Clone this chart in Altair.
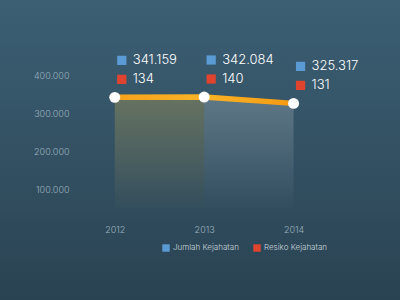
import altair as alt
import pandas as pd

years = [2012, 2013, 2014]
jumlah = [341159, 342084, 325317]
resiko = [134, 140, 131]
series_names = ["Jumlah Kejahatan", "Resiko Kejahatan"]
series_colors = ["#5b9bd5", "#e0442e"]
y_ticks = [100000, 200000, 300000, 400000]

def fmt(v):
    return f"{v:,}".replace(",", ".")

df = pd.DataFrame({
    "year": years,
    "jumlah": jumlah,
    "resiko": resiko,
    "jumlah_lbl": [fmt(v) for v in jumlah],
    "resiko_lbl": [fmt(v) for v in resiko],
    "s1": series_names[0],
    "s2": series_names[1],
})
base0 = 50000
df["base"] = base0

FONT = "Inter"
W, H = 295, 171
PL, PT = 79, 37

xs = alt.X("year:Q", scale=alt.Scale(domain=[2011.6, 2014.9]),
           axis=alt.Axis(values=years, format="d", title=None, domain=False, ticks=False,
                         grid=False, labelColor="#9db1bf", labelFontSize=9, labelFont=FONT,
                         labelPadding=17, labelFontWeight=300, zindex=3))
ys = alt.Y("jumlah:Q", scale=alt.Scale(domain=[base0, 500000], zero=False),
           axis=alt.Axis(values=y_ticks, title=None, domain=False, ticks=False, grid=False,
                         labelColor="#9db1bf", labelFontSize=9, labelFont=FONT, labelPadding=10,
                         labelFontWeight=300, zindex=3,
                         labelExpr="replace(format(datum.value, ','), ',', '.')"))

bg = alt.Chart(df).mark_rect(clip=False, color=alt.Gradient(
    gradient="linear", x1=0, x2=0, y1=0, y2=1,
    stops=[alt.GradientStop(color="#3c5f74", offset=0),
           alt.GradientStop(color="#2a4352", offset=1)])).encode(
    x=alt.value(-PL), x2=alt.value(400 - PL), y=alt.value(-PT), y2=alt.value(300 - PT))

area_left = alt.Chart(df[df.year <= 2013]).mark_area(color=alt.Gradient(
    gradient="linear", x1=0, x2=0, y1=0, y2=1,
    stops=[alt.GradientStop(color="rgba(205,175,80,0.32)", offset=0),
           alt.GradientStop(color="rgba(205,175,80,0.02)", offset=1)])).encode(
    x=xs, y=ys, y2=alt.Y2("base:Q"))

area_right = alt.Chart(df[df.year >= 2013]).mark_area(color=alt.Gradient(
    gradient="linear", x1=0, x2=0, y1=0, y2=1,
    stops=[alt.GradientStop(color="rgba(255,255,255,0.20)", offset=0),
           alt.GradientStop(color="rgba(255,255,255,0.01)", offset=1)])).encode(
    x=xs, y=ys, y2=alt.Y2("base:Q"))

line = alt.Chart(df).mark_line(strokeWidth=5.5, color=alt.Gradient(
    gradient="linear", x1=0, x2=1, y1=0, y2=0,
    stops=[alt.GradientStop(color="#f7a21b", offset=0),
           alt.GradientStop(color="#f9b326", offset=0.5),
           alt.GradientStop(color="#f59a12", offset=1)])).encode(x=xs, y=ys)

pts = alt.Chart(df).mark_point(filled=True, size=120, color="white", opacity=1).encode(x=xs, y=ys)

color_enc = alt.Color("s:N", scale=alt.Scale(domain=series_names, range=series_colors),
                      legend=alt.Legend(title=None, orient="none", direction="horizontal",
                                        legendX=83, legendY=207, symbolType="square",
                                        symbolSize=55, symbolStrokeWidth=0, symbolOpacity=1,
                                        labelColor="#c9d6df", labelFontSize=8, labelFont=FONT,
                                        labelFontWeight=300, columnPadding=14, labelOffset=3,
                                        zindex=3))

sq1 = alt.Chart(df).transform_calculate(s="datum.s1").mark_square(
    size=85, opacity=1, xOffset=7, yOffset=-37).encode(x=xs, y=ys, color=color_enc)
sq2 = alt.Chart(df).transform_calculate(s="datum.s2").mark_square(
    size=85, opacity=1, xOffset=7, yOffset=-18).encode(x=xs, y=ys, color=color_enc)

t1 = alt.Chart(df).mark_text(align="left", baseline="middle", dx=18, dy=-37, fontSize=13,
                             font=FONT, fontWeight=300, color="white").encode(
    x=xs, y=ys, text="jumlah_lbl:N")
t2 = alt.Chart(df).mark_text(align="left", baseline="middle", dx=18, dy=-18, fontSize=13,
                             font=FONT, fontWeight=300, color="white").encode(
    x=xs, y=ys, text="resiko_lbl:N")

chart = alt.layer(bg, area_left, area_right, line, pts, sq1, sq2, t1, t2).properties(
    width=W, height=H, padding={"left": PL, "top": PT, "right": 400 - PL - W, "bottom": 300 - PT - H},
    autosize=alt.AutoSizeParams(type="none"), background="#2f4a5a"
).configure_view(stroke=None)

chart.save("out.html", embed_options={"renderer": "svg", "actions": False})
